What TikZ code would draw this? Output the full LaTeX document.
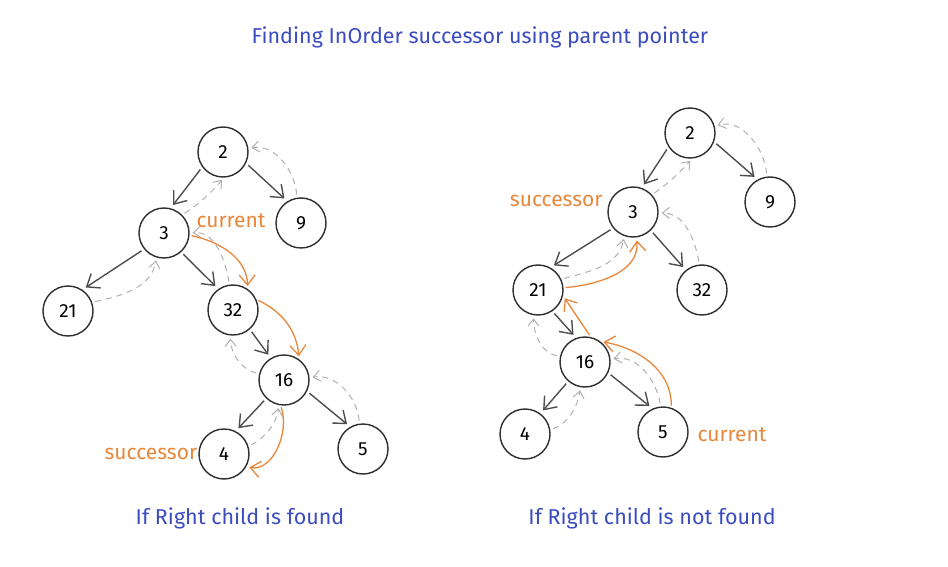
\documentclass[tikz,border=0pt]{standalone}
\usepackage{fontspec}
\setmainfont{Fira Sans}
\usetikzlibrary{arrows.meta}
\definecolor{penblue}{HTML}{3B4CC0}
\definecolor{penorange}{HTML}{E8873A}
\definecolor{pengray}{HTML}{2E2E2E}
\definecolor{dashgray}{HTML}{B0B0B0}

\begin{document}
\begin{tikzpicture}[x=1pt,y=1pt,
  vertex/.style = {shape=circle, draw=pengray, line width=1.4pt,
    minimum size=50pt, inner sep=0pt, font=\fontsize{19}{20}\selectfont},
  link/.style = {draw=pengray!85, line width=1.4pt, shorten <=3pt, shorten >=4pt,
    -{Straight Barb[length=11pt,width=17pt]}},
  back/.style = {draw=dashgray, line width=1pt, dash pattern=on 6pt off 5pt,
    shorten <=3pt, shorten >=3pt, -{Straight Barb[length=7pt,width=11pt]}},
  walk/.style = {draw=penorange, line width=1.3pt, shorten <=2pt, shorten >=3pt,
    -{Straight Barb[length=10pt,width=16pt]}},
  tag/.style = {text=penorange, font=\fontsize{21}{22}\selectfont},
  caption/.style = {text=penblue, font=\fontsize{21.5}{23}\selectfont}]
  \useasboundingbox (0,0) rectangle (948,-567);

  \node[caption] (title) at (480,-37) {Finding InOrder successor using parent pointer};

  % left tree: right child is found
  \node[vertex] (l2)  at (223,-152) {2};
  \node[vertex] (l9)  at (301,-223) {9};
  \node[vertex] (l3)  at (164,-233) {3};
  \node[vertex] (l21) at (68,-311)  {21};
  \node[vertex] (l32) at (233,-310) {32};
  \node[vertex] (l16) at (284,-380) {16};
  \node[vertex] (l4)  at (224,-454) {4};
  \node[vertex] (l5)  at (363,-449) {5};

  \foreach \a/\s/\b/\e in {l2/216/l3/75, l2/334/l9/122, l3/219/l21/56, l3/312/l32/125,
      l32/311/l16/121, l16/226/l4/63, l16/334/l5/120}
    \draw[link] (\a.\s) -- (\b.\e);

  \draw[back] (l3.45) to[bend right=8] (l2.272);
  \draw[back] (l9.99) to[out=95,in=10] (l2.8);
  \draw[back] (l21.20) to[out=12,in=-100] (l3.253);
  \draw[back] (l32.98) to[out=100,in=5] (l3.0);
  \draw[back] (l16.166) to[out=165,in=-88] (l32.264);
  \draw[back] (l4.17) to[out=30,in=-100] (l16.259);
  \draw[back] (l5.98) to[out=95,in=10] (l16.5);

  \draw[walk] (l3.355) to[out=-12,in=92] (l32.55);
  \draw[walk] (l32.24) to[out=-25,in=95] (l16.54);
  \draw[walk] (l16.262) to[out=-70,in=-10] (l4.330);

  \node[tag, anchor=west] (lcur) at (193,-221) {current};
  \node[tag, anchor=east, inner sep=1pt] (lsucc) at (l4.west) {successor};

  \node[caption] (lcap) at (240,-518) {If Right child is found};

  % right tree: right child is not found
  \node[vertex] (r2)  at (690,-133) {2};
  \node[vertex] (r9)  at (770,-202) {9};
  \node[vertex] (r3)  at (633,-212) {3};
  \node[vertex] (r21) at (538,-290) {21};
  \node[vertex] (r32) at (702,-290) {32};
  \node[vertex] (r16) at (585,-362) {16};
  \node[vertex] (r4)  at (525,-434) {4};
  \node[vertex] (r5)  at (663,-432) {5};

  \foreach \a/\s/\b/\e in {r2/213/r3/70, r2/340/r9/119, r3/219/r21/61, r3/314/r32/129,
      r21/304/r16/110, r16/229/r4/53, r16/335/r5/114}
    \draw[link] (\a.\s) -- (\b.\e);

  \draw[back] (r3.42) to[bend right=6] (r2.275);
  \draw[back] (r9.97) to[out=95,in=15] (r2.16);
  \draw[back] (r21.25) to[out=15,in=-100] (r3.250);
  \draw[back] (r32.96) to[out=100,in=0] (r3.358);
  \draw[back] (r16.167) to[out=170,in=-90] (r21.260);
  \draw[back] (r4.10) to[out=20,in=-100] (r16.260);
  \draw[back] (r5.95) to[out=100,in=10] (r16.6);

  \draw[walk] (r5.71) to[out=90,in=-10] (r16.53);
  \draw[walk] (r16.77) -- (r21.347);
  \draw[walk] (r21.5) to[out=5,in=-85] (r3.278);

  \node[tag, anchor=east] (rsucc) at (606,-201) {successor};
  \node[tag, anchor=west] (rcur) at (694,-435) {current};

  \node[caption] (rcap) at (652,-518) {If Right child is not found};
\end{tikzpicture}
\end{document}
